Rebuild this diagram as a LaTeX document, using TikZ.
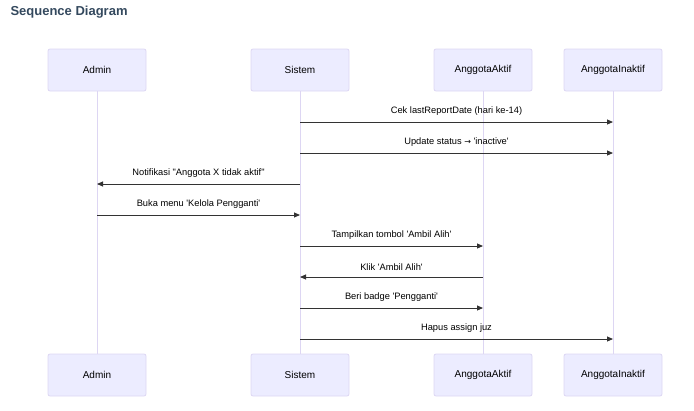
\documentclass[tikz,border=0pt]{standalone}
\usepackage{fontspec}
\setmainfont{Liberation Sans}[Ligatures=TeXOff]
\newfontfamily\dejavu{DejaVu Sans}
\usetikzlibrary{arrows.meta}
\definecolor{actfill}{HTML}{ECECFF}
\definecolor{actdraw}{HTML}{DDD6F3}
\definecolor{lifecol}{HTML}{DDD6F3}
\definecolor{msgcol}{HTML}{333333}
\definecolor{titlecol}{HTML}{34495E}
\tikzset{
  actor/.style={draw=actdraw, fill=actfill, line width=0.8pt, rounded corners=2pt,
    minimum width=98pt, minimum height=42pt, inner sep=0pt, font=\fontsize{10}{12}\selectfont},
  life/.style={draw=lifecol, line width=1pt},
  msg/.style={draw=msgcol, line width=0.9pt, -{Triangle[length=6pt,width=5pt]}},
  lbl/.style={font=\fontsize{9.3}{11}\selectfont, text=black, inner sep=0pt}
}
\begin{document}
\begin{tikzpicture}[x=1pt,y=-1pt]
\useasboundingbox (0,0) rectangle (694,410);
\node[anchor=west, font=\bfseries\fontsize{13}{15}\selectfont, text=titlecol] (title) at (7,12) {Sequence Diagram};
% actors top
\node[actor] (adminT) at (97,70) {Admin};
\node[actor] (sisT) at (300,70) {Sistem};
\node[actor] (aktT) at (483,70) {AnggotaAktif};
\node[actor] (inaT) at (613,70) {AnggotaInaktif};
% actors bottom
\node[actor] (adminB) at (97,375) {Admin};
\node[actor] (sisB) at (300,375) {Sistem};
\node[actor] (aktB) at (483,375) {AnggotaAktif};
\node[actor] (inaB) at (613,375) {AnggotaInaktif};
% lifelines
\draw[life] (adminT) -- (adminB);
\draw[life] (sisT) -- (sisB);
\draw[life] (aktT) -- (aktB);
\draw[life] (inaT) -- (inaB);
% coordinates
\foreach \n/\y in {1/122,2/153,3/184,4/215,5/246,6/277,7/308,8/339}{
  \coordinate (ad\n) at (97,\y);
  \coordinate (si\n) at (300,\y);
  \coordinate (ak\n) at (483,\y);
  \coordinate (in\n) at (613,\y);
}
\draw[msg] (si1) -- node[lbl, above=6pt] (m1) {Cek lastReportDate (hari ke-14)} (in1);
\draw[msg] (si2) -- node[lbl, above=6pt] (m2) {Update status {\dejavu\fontsize{8}{9}\selectfont →} 'inactive'} (in2);
\draw[msg] (si3) -- node[lbl, above=6pt] (m3) {Notifikasi "Anggota X tidak aktif"} (ad3);
\draw[msg] (ad4) -- node[lbl, above=6pt] (m4) {Buka menu 'Kelola Pengganti'} (si4);
\draw[msg] (si5) -- node[lbl, above=6pt] (m5) {Tampilkan tombol 'Ambil Alih'} (ak5);
\draw[msg] (ak6) -- node[lbl, above=6pt] (m6) {Klik 'Ambil Alih'} (si6);
\draw[msg] (si7) -- node[lbl, above=6pt] (m7) {Beri badge 'Pengganti'} (ak7);
\draw[msg] (si8) -- node[lbl, above=6pt] (m8) {Hapus assign juz} (in8);
\end{tikzpicture}
\end{document}
